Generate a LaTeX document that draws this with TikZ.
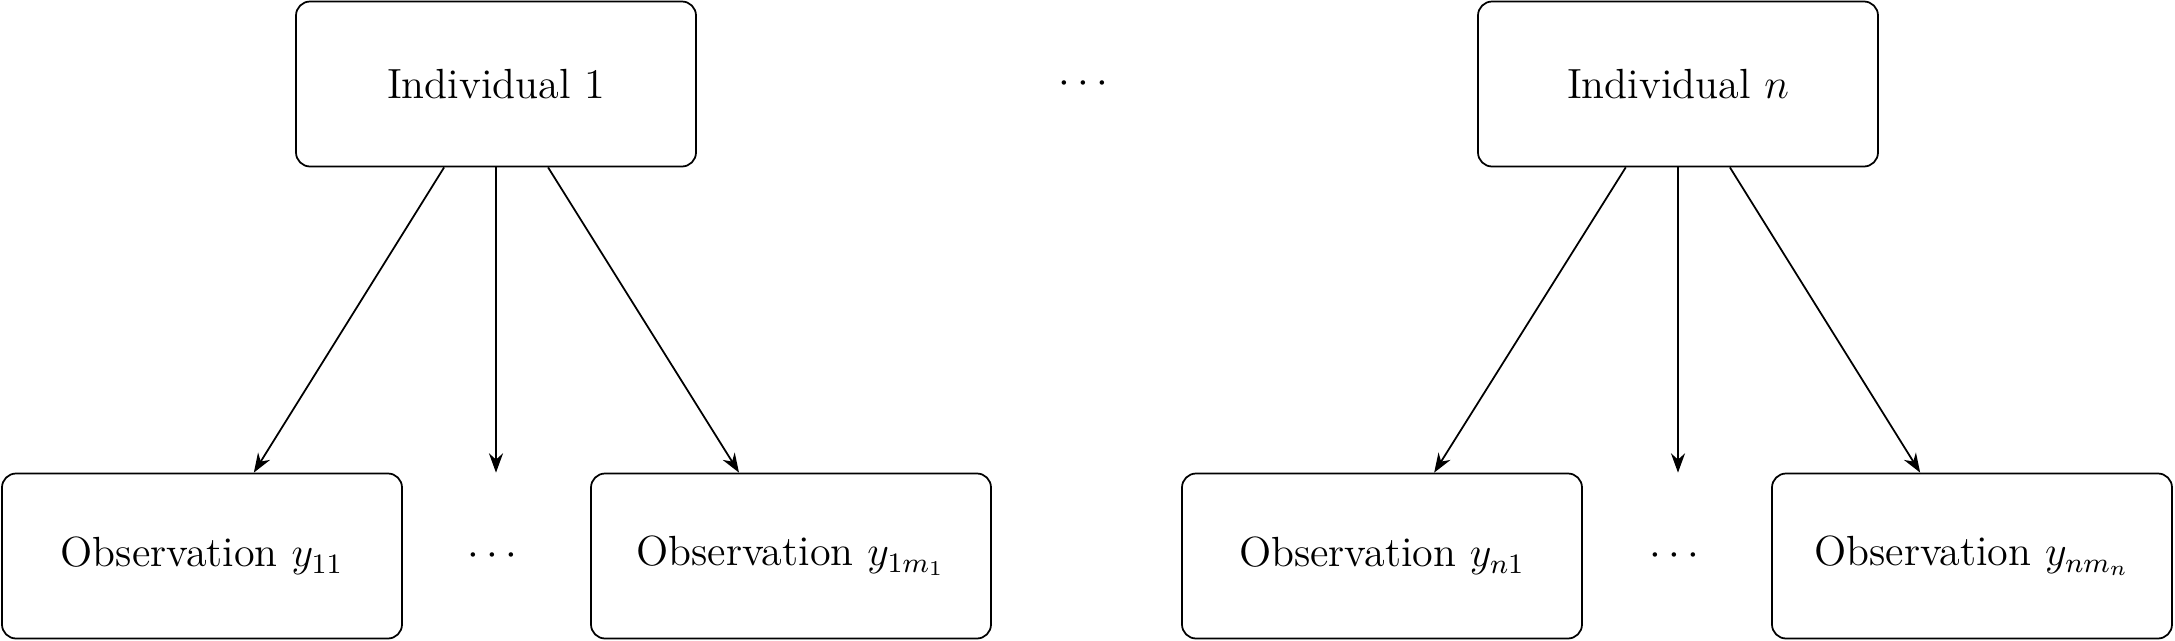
\documentclass[tikz,border=0pt]{standalone}
\usepackage{tikz}
\usetikzlibrary{arrows.meta,positioning}
\usepackage{amsmath}

\begin{document}
\begin{tikzpicture}[line width=0.5pt,
      box/.style={draw, rounded corners, minimum width=4cm, minimum height=1.65cm, font=\large},
      gap/.style={minimum width=1cm, minimum height=1.65cm, font=\large},
      arr/.style={-{Stealth[length=5.5pt,width=4pt]}}]
      \useasboundingbox (0,0) rectangle (21.75,6.4);
      % individuals
      \node [box] (ind1) at (4.96,5.56) {Individual 1};
      \node [gap] (topdots) at (10.87,5.56) {$\cdots$};
      \node [box] (indn) at (16.78,5.56) {Individual $n$};
      % observations
      \node [box] (obs11) at (2.02,0.84) {Observation $y_{11}$};
      \node [gap] (dots1) at (4.96,0.84) {$\cdots$};
      \node [box] (obs1m) at (7.91,0.84) {Observation $y_{1m_1}$};
      \node [box] (obsn1) at (13.82,0.84) {Observation $y_{n1}$};
      \node [gap] (dotsn) at (16.78,0.84) {$\cdots$};
      \node [box] (obsnm) at (19.72,0.84) {Observation $y_{nm_n}$};
      % arrows
      \draw [arr] (ind1) -- (obs11);
      \draw [arr] (ind1) -- (dots1.north);
      \draw [arr] (ind1) -- (obs1m);
      \draw [arr] (indn) -- (obsn1);
      \draw [arr] (indn) -- (dotsn.north);
      \draw [arr] (indn) -- (obsnm);
    \end{tikzpicture}
\end{document}
